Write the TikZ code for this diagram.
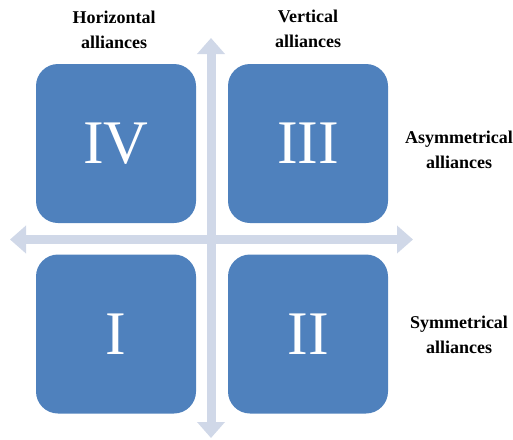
\documentclass[tikz,border=0pt]{standalone}
\usepackage{fontspec}
\setmainfont{Liberation Serif}
\usetikzlibrary{arrows.meta,positioning}
\definecolor{quadblue}{HTML}{4F81BD}
\definecolor{axisgray}{HTML}{D0D8E8}
\tikzset{
  quadrant/.style={fill=quadblue, rounded corners=22pt, minimum width=160pt, minimum height=159pt,
    inner sep=0pt, text=white, font=\fontsize{62}{62}\selectfont},
  axisarrow/.style={draw=axisgray, line width=9pt,
    {Triangle[width=27pt,length=16pt]}-{Triangle[width=27pt,length=16pt]}},
  axislabel/.style={align=center, font=\bfseries\fontsize{18}{25}\selectfont}
}

\begin{document}
\begin{tikzpicture}[x=1pt,y=-1pt]
  \useasboundingbox (0,0) rectangle (513,439);
  % axes
  \coordinate (north) at (211,38);
  \coordinate (south) at (211,438);
  \coordinate (west) at (10,239.5);
  \coordinate (east) at (413,239.5);
  \draw [axisarrow] (south) -- (north);
  \draw [axisarrow] (west) -- (east);
  % quadrants
  \node [quadrant] (IV) at (116,143.5) {IV};
  \node [quadrant] (III) at (308,143.5) {III};
  \node [quadrant] (I) at (116,334) {I};
  \node [quadrant] (II) at (308,334) {II};
  % labels
  \node [axislabel] (horiz) at (114,30) {Horizontal\\alliances};
  \node [axislabel] (vert) at (308,29) {Vertical\\alliances};
  \node [axislabel] (asym) at (459,149.5) {Asymmetrical\\alliances};
  \node [axislabel] (sym) at (459,334.5) {Symmetrical\\alliances};
\end{tikzpicture}
\end{document}
